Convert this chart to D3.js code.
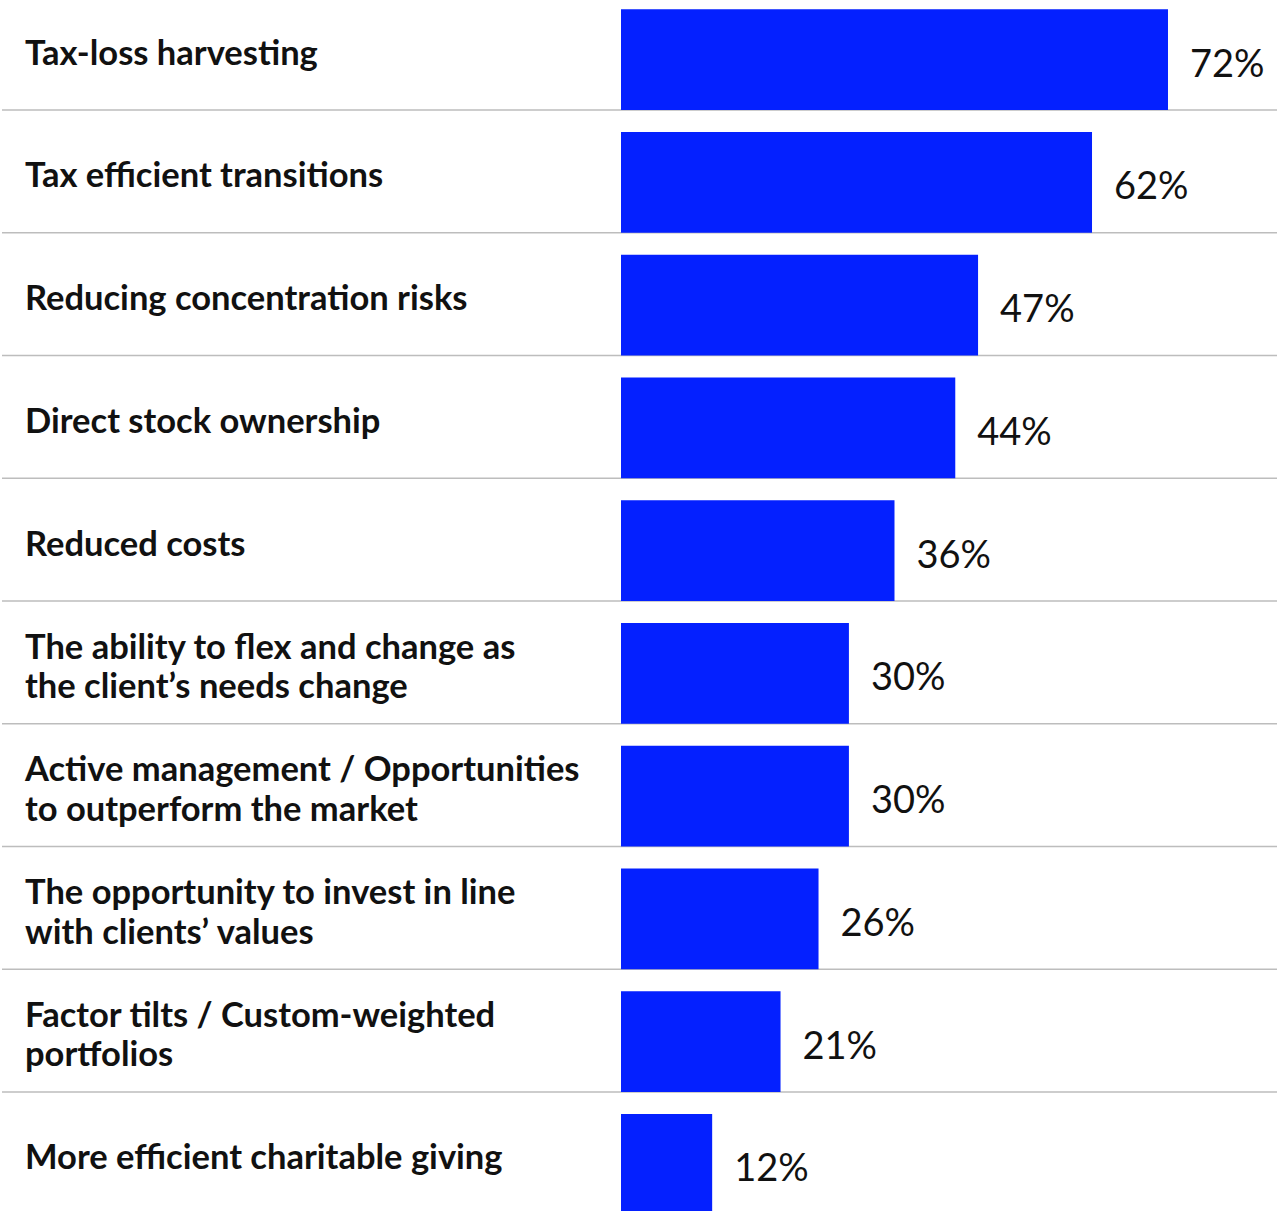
<!DOCTYPE html>
<html>
<head>
<meta charset="utf-8">
<script src="https://cdn.jsdelivr.net/npm/d3@7"></script>
<style>
  html, body { margin: 0; padding: 0; background: #fff; }
  svg { display: block; }
</style>
</head>
<body>
<svg id="chart" width="1281" height="1211"></svg>
<script>
// Survey answers: share of respondents citing each benefit (%)
const categories = [
  ["Tax-loss harvesting"],
  ["Tax efficient transitions"],
  ["Reducing concentration risks"],
  ["Direct stock ownership"],
  ["Reduced costs"],
  ["The ability to flex and change as", "the client\u2019s needs change"],
  ["Active management / Opportunities", "to outperform the market"],
  ["The opportunity to invest in line", "with clients\u2019 values"],
  ["Factor tilts / Custom-weighted", "portfolios"],
  ["More efficient charitable giving"]
];
const values = [72, 62, 47, 44, 36, 30, 30, 26, 21, 12];

const svg = d3.select("#chart");
const rowH = 122.75;
const top0 = 110 - rowH;
const barGap = 22;
const barLeft = 621;
const pxPerPct = 7.597;

const keys = categories.map((c, i) => i);
const y = d3.scaleBand()
  .domain(keys)
  .range([top0, top0 + rowH * keys.length])
  .paddingInner(0).paddingOuter(0);

const x = d3.scaleLinear()
  .domain([0, 100])
  .range([barLeft, barLeft + 100 * pxPerPct]);

const barTop = i => y(i) + barGap;
const barH = y.bandwidth() - barGap;
const barMid = i => barTop(i) + barH / 2;

// row separators
svg.append("g").selectAll("line")
  .data(keys.slice(0, -1))
  .join("line")
  .attr("x1", 2).attr("x2", 1277)
  .attr("y1", i => y(i) + y.bandwidth())
  .attr("y2", i => y(i) + y.bandwidth())
  .attr("stroke", "#bdbdbd")
  .attr("stroke-width", 1.5);

// bars
svg.append("g").selectAll("rect")
  .data(keys)
  .join("rect")
  .attr("x", x(0))
  .attr("y", i => barTop(i))
  .attr("width", i => x(values[i]) - x(0))
  .attr("height", barH)
  .attr("fill", "#0420ff");

// category labels (one or two lines, centred on the bar)
const font = "Lato, 'Noto Sans', sans-serif";
const lab = svg.append("g").selectAll("text")
  .data(keys)
  .join("text")
  .attr("x", 25)
  .attr("font-family", font)
  .attr("font-weight", 700)
  .attr("font-size", 34.5)
  .attr("fill", "#111");
lab.each(function (i) {
  const lines = categories[i];
  const lh = 39.5;
  const first = barMid(i) - 7.5 - (lines.length - 1) * lh / 2 + 12.4;
  d3.select(this).selectAll("tspan")
    .data(lines)
    .join("tspan")
    .attr("x", 25)
    .attr("y", (d, k) => first + k * lh)
    .text(d => d);
});

// value labels
svg.append("g").selectAll("text")
  .data(keys)
  .join("text")
  .attr("x", i => x(values[i]) + 22)
  .attr("y", i => barMid(i) + 17)
  .attr("font-family", font)
  .attr("font-weight", 400)
  .attr("font-size", 38)
  .attr("fill", "#111")
  .text(i => values[i] + "%");
</script>
</body>
</html>
